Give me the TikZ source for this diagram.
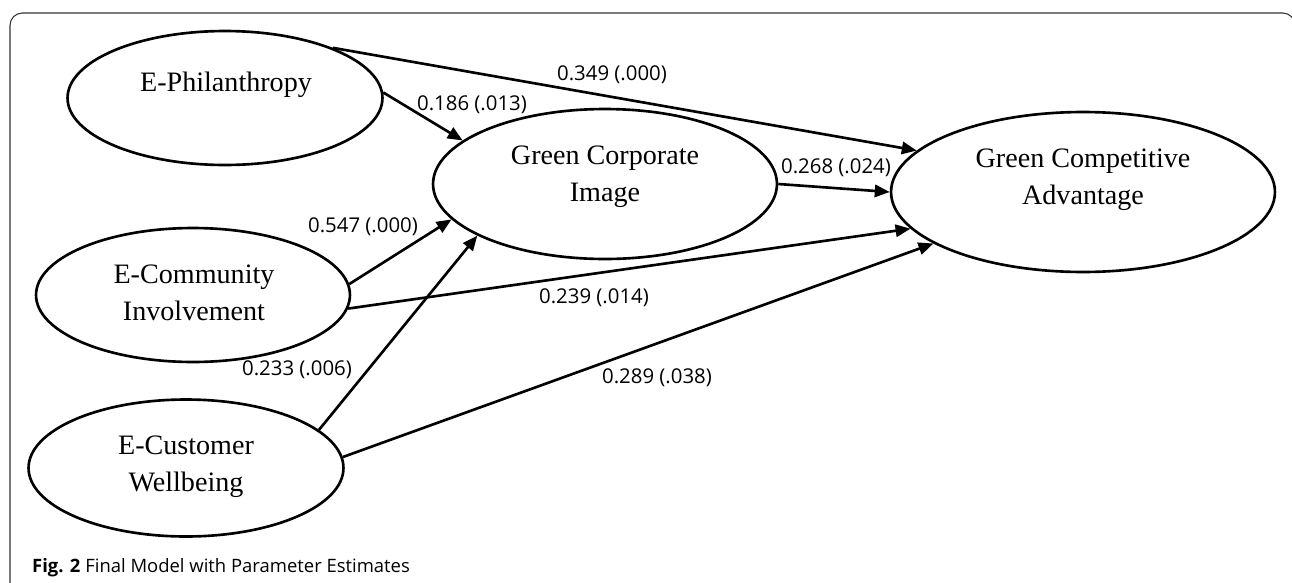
\documentclass[tikz,border=0pt]{standalone}
\usepackage{fontspec}
\setmainfont{Liberation Serif}
\newfontfamily\labfont{Open Sans}
\usetikzlibrary{shapes.geometric,arrows.meta}

\begin{document}
\begin{tikzpicture}[x=0.02cm, y=-0.02cm, line width=1.5pt,
      >={Triangle[length=8.5pt,width=7pt]},
      txt/.style={align=center, font=\fontsize{16}{21.3}\selectfont},
      est/.style={font=\labfont\fontsize{11.6}{14}\selectfont}]
      \clip (0,0) rectangle (1292,582);
      \draw[line width=0.6pt, draw=black!80, rounded corners=7pt] (10,600) -- (10,13) -- (1295,13) -- (1295,600);

      \node[ellipse, draw=black, name=phil, inner sep=0pt, minimum width=6.3cm, minimum height=2.68cm] at (225,98) {};
      \node[ellipse, draw=black, name=comm, inner sep=0pt, minimum width=6.28cm, minimum height=2.68cm] at (193,295) {};
      \node[ellipse, draw=black, name=cust, inner sep=0pt, minimum width=6.3cm, minimum height=2.74cm] at (186,468) {};
      \node[ellipse, draw=black, name=gci, inner sep=0pt, minimum width=6.88cm, minimum height=3cm] at (605,184) {};
      \node[ellipse, draw=black, name=gca, inner sep=0pt, minimum width=7.68cm, minimum height=3.2cm] at (1083,192) {};

      \node[txt] at (226,85) {E-Philanthropy};
      \node[txt] at (194,293) {E-Community\\Involvement};
      \node[txt] at (186,467) {E-Customer\\Wellbeing};
      \node[txt] at (605,177) {Green Corporate\\Image};
      \node[txt] at (1083,180) {Green Competitive\\Advantage};

      \path[->]
         (phil.25) edge (gca.166)
         (phil.2) edge (gci.163)
         (gci.0) edge (gca.180)
         (comm.4) edge (gci.193)
         (comm.355) edge (gca.192)
         (cust.16) edge (gci.202)
         (cust.4) edge (gca.199);

      \node[est] at (612,75) {0.349 (.000)};
      \node[est] at (472,105) {0.186 (.013)};
      \node[est] at (836,168) {0.268 (.024)};
      \node[est] at (363,227) {0.547 (.000)};
      \node[est] at (594,298) {0.239 (.014)};
      \node[est] at (297,370) {0.233 (.006)};
      \node[est] at (657,378) {0.289 (.038)};

      \node[anchor=base west, font=\labfont\fontsize{10.5}{12}\selectfont] at (25,572) {\textbf{Fig. 2} Final Model with Parameter Estimates};
   \end{tikzpicture}
\end{document}
